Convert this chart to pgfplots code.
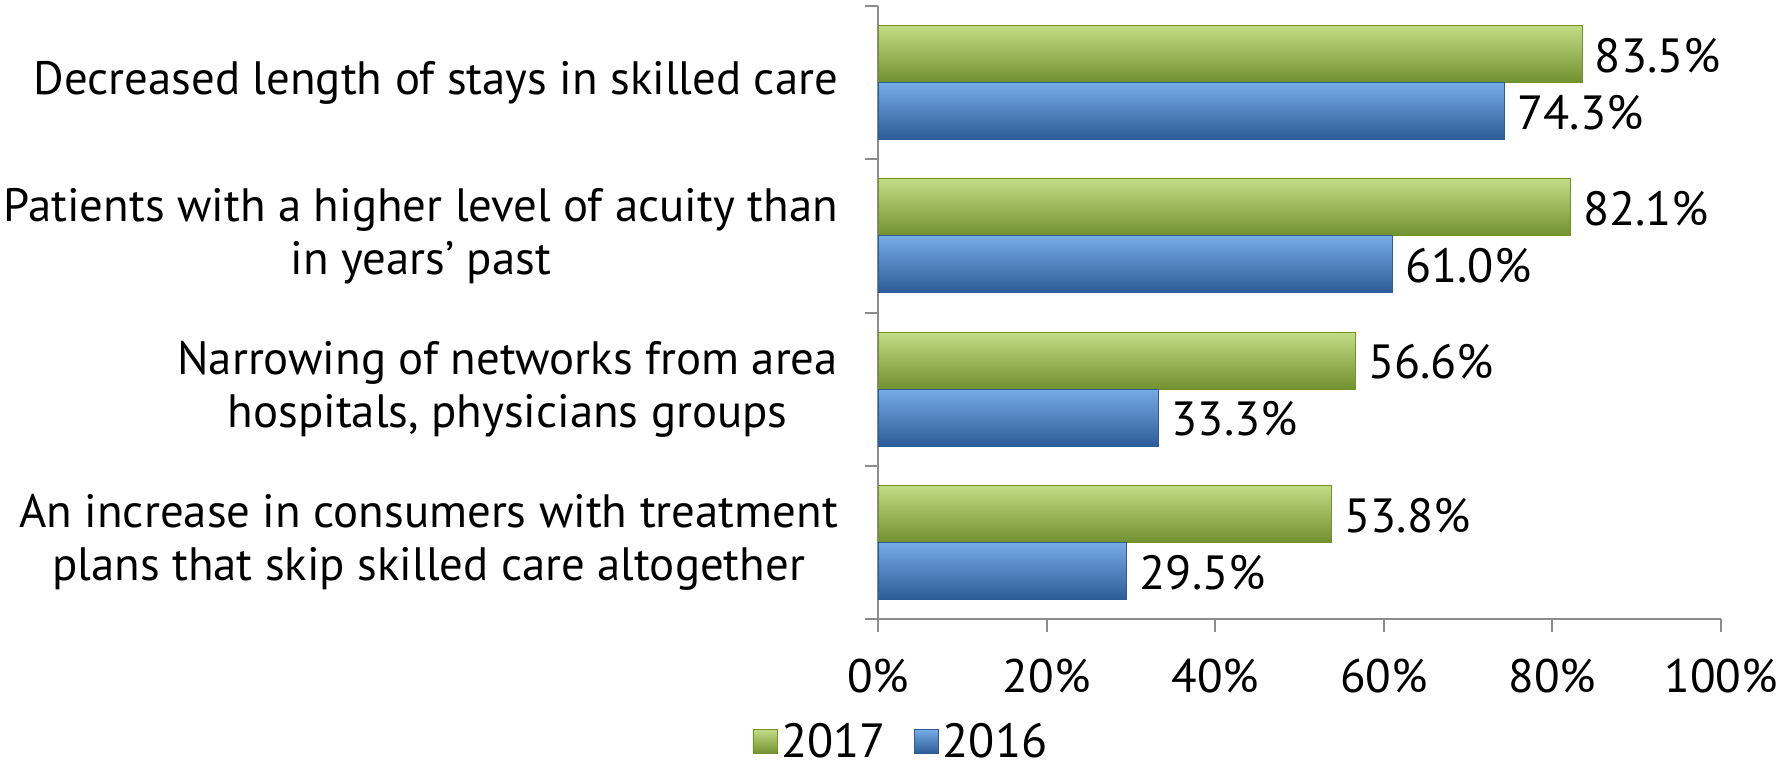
\documentclass[border=0pt]{standalone}
\usepackage{fontspec}
\setmainfont{PT Sans}
\usepackage{pgfplots}
\pgfplotsset{compat=1.18}
\definecolor{gr}{HTML}{9FC14F}
\definecolor{grD}{HTML}{71902E}
\definecolor{grL}{HTML}{C2DC85}
\definecolor{bl}{HTML}{3F7CC6}
\definecolor{blD}{HTML}{2C5C98}
\definecolor{blL}{HTML}{76ABE6}
\definecolor{axgray}{HTML}{8C8C8C}
\pgfplotsset{
  gbar/.style={xbar, bar width=28.5pt, bar shift=14.25pt, draw=grD, top color=grL, middle color=gr, bottom color=grD,
    every node near coord/.append style={yshift=13.5pt}},
  bbar/.style={xbar, bar width=28.5pt, bar shift=-14.25pt, draw=blD, top color=blL, middle color=bl, bottom color=blD,
    every node near coord/.append style={yshift=-15pt}},
}
\begin{document}
\begin{tikzpicture}
\begin{axis}[
  scale only axis,
  width=421.5pt, height=306.5pt,
  xmin=0, xmax=100, ymin=-0.5, ymax=3.5,
  y dir=reverse,
  /pgf/number format/assume math mode=true,
  axis x line*=bottom, axis y line*=left,
  axis line style={draw=axgray, line width=1pt, -},
  tick style={draw=axgray, line width=1pt},
  tick align=outside,
  major tick length=6.5pt, minor tick length=6.5pt,
  xtick={0,20,...,100},
  xticklabel={\pgfmathprintnumber{\tick}\%},
  xticklabel style={font=\fontsize{23.5}{27}\selectfont, yshift=-10pt},
  ytick={0,1,2,3},
  major y tick style={draw=none},
  minor ytick={-0.5,0.5,1.5,2.5,3.5},
  yticklabels={{Decreased length of stays in skilled care},
    {Patients with a higher level of acuity than\\in years' past},
    {Narrowing of networks from area\\hospitals, physicians groups},
    {An increase in consumers with treatment\\plans that skip skilled care altogether}},
  yticklabel style={font=\fontsize{23.4}{26.5}\selectfont, align=center, anchor=east, xshift=-10pt},
  point meta=x,
  nodes near coords={\pgfmathprintnumber[fixed,fixed zerofill,precision=1]{\pgfplotspointmeta}\%},
  nodes near coords style={font=\fontsize{24}{28}\selectfont, anchor=west, xshift=3pt},
  legend style={at={(axis description cs:0.0285,-0.2)}, anchor=center, legend columns=2, draw=none, fill=none,
    font=\fontsize{24}{28}\selectfont,
    /tikz/every even column/.append style={column sep=12pt}},
  legend image code/.code={\draw[#1] (0pt,-6pt) rectangle (12pt,6pt);},
]
\addplot[gbar] coordinates {(83.5,0)};
\addplot[bbar] coordinates {(74.3,0)};
\addplot[gbar, forget plot] coordinates {(82.1,1)};
\addplot[bbar, forget plot] coordinates {(61.0,1)};
\addplot[gbar, forget plot] coordinates {(56.6,2)};
\addplot[bbar, forget plot] coordinates {(33.3,2)};
\addplot[gbar, forget plot] coordinates {(53.8,3)};
\addplot[bbar, forget plot] coordinates {(29.5,3)};
\legend{2017,2016}
\coordinate (bl) at (axis description cs:0,0);
\end{axis}
\pgfresetboundingbox
\path (bl) ++(-439pt,-74.5pt) rectangle ++(891.5pt,384pt);
\end{tikzpicture}
\end{document}
